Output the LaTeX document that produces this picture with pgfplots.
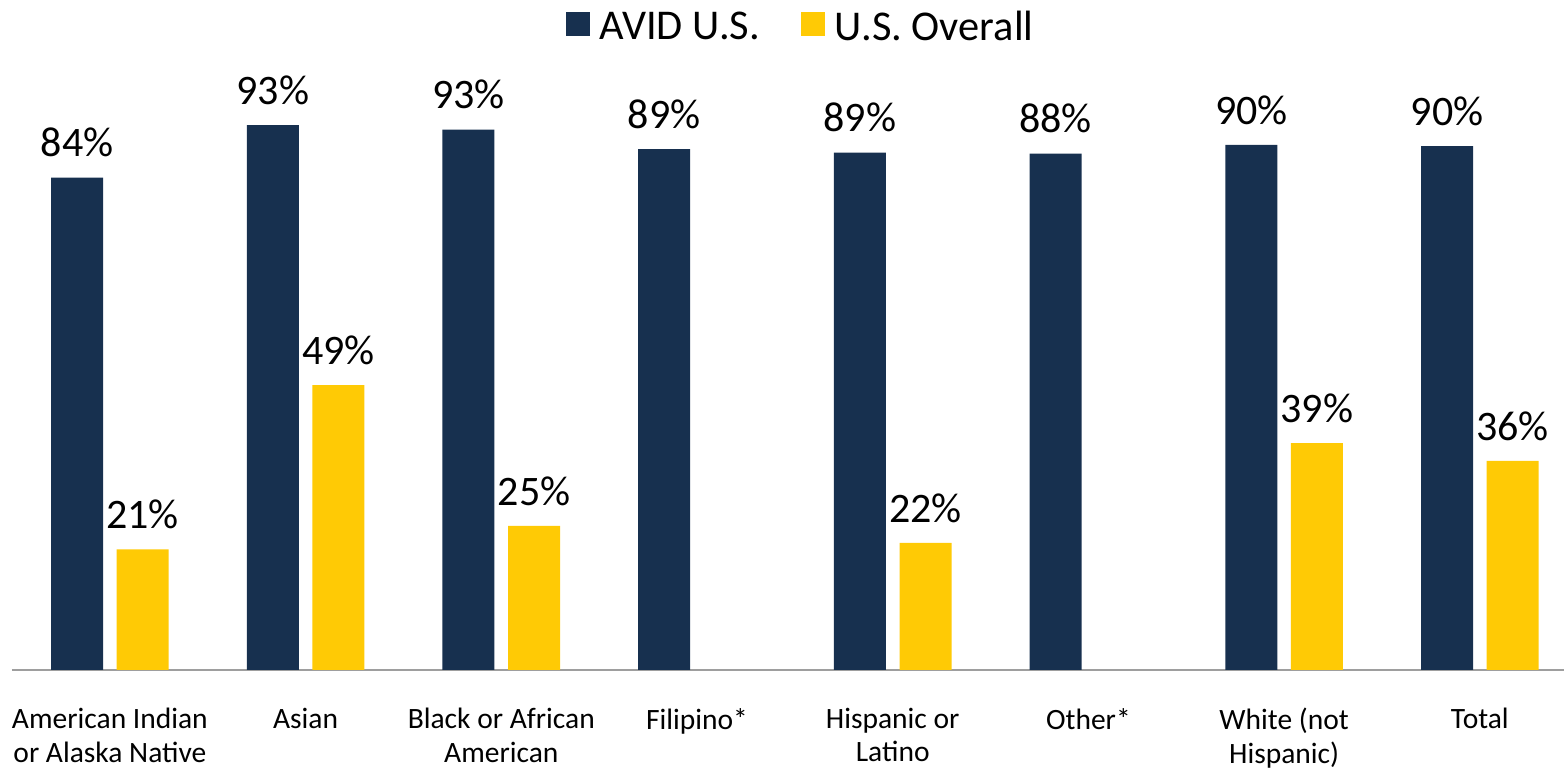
\documentclass[border=0pt]{standalone}
\usepackage{pgfplots}
\pgfplotsset{compat=1.18}
\usepackage{fontspec}
\setmainfont{Carlito}
\definecolor{navy}{HTML}{17304F}
\definecolor{gold}{HTML}{FFCA05}
\begin{document}
\begin{tikzpicture}
\begin{axis}[
  at={(0,0)}, anchor=south west,
  width=776pt, height=293pt, scale only axis,
  ybar=6.8pt, bar width=26pt,
  xmin=-0.5, xmax=7.43, ymin=0, ymax=100,
  axis x line*=bottom, axis y line=none,
  x axis line style={draw=black!38, line width=1pt, -},
  xtick={0,...,7},
  xticklabels={American Indian\\or Alaska Native, Asian, Black or African\\American, Filipino*, Hispanic or\\Latino, Other*, White (not\\Hispanic), Total},
  xticklabel style={align=center, font=\fontsize{14.75}{16.8}\selectfont, yshift=-15.5pt},
  xtick style={draw=none}, major tick length=0pt,
  point meta=explicit symbolic,
  nodes near coords={\pgfplotspointmeta\%},
  every node near coord/.append style={font=\fontsize{21}{25}\selectfont, text=black, inner sep=0pt, yshift=10pt},
  legend columns=2,
  legend style={at={(0.5087,1)}, anchor=center, yshift=28.5pt, draw=none, fill=none,
    font=\fontsize{21.2}{25}\selectfont,
    /tikz/every odd column/.append style={column sep=3pt},
    /tikz/every even column/.append style={column sep=18.5pt}},
  legend image code/.code={\draw[#1, draw=none] (0pt,-4.5pt) rectangle (12pt,7.5pt);},
]
\addplot[fill=navy, draw=none] coordinates {
  (0,84.0) [84] (1,93.0) [93] (2,92.2) [93] (3,88.9) [89]
  (4,88.3) [89] (5,88.1) [88] (6,89.6) [90] (7,89.4) [90]};
\addplot[fill=gold, draw=none] coordinates {
  (0,20.6) [21] (1,48.6) [49] (2,24.6) [25]
  (4,21.7) [22] (6,38.7) [39] (7,35.7) [36]};
\legend{AVID U.S., U.S. Overall}
\end{axis}
\pgfresetboundingbox
\path (-6pt,-49.5pt) rectangle (776pt,335pt);
\end{tikzpicture}
\end{document}
